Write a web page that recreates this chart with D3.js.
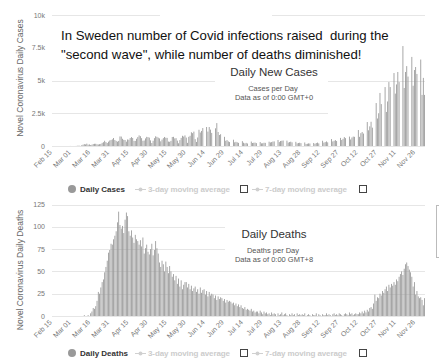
<!DOCTYPE html>
<html>
<head>
<meta charset="utf-8">
<script src="https://cdn.jsdelivr.net/npm/d3@7"></script>
<style>
body { margin: 0; background: #fff; }
svg { display: block; }
text { font-family: "Liberation Sans", Arial, sans-serif; }
</style>
</head>
<body>
<div id="chart"></div>
<script>
// x tick labels, one every 15 days starting Feb 15
const tickLabels = ["Feb 15", "Mar 01", "Mar 16", "Mar 31", "Apr 15", "Apr 30", "May 15", "May 30",
    "Jun 14", "Jun 29", "Jul 14", "Jul 29", "Aug 13", "Aug 28", "Sep 12", "Sep 27",
    "Oct 12", "Oct 27", "Nov 11", "Nov 26"];

// daily new cases, Feb 15 -> Dec 3 (one row per week, Sat..Fri)
const dailyCases = [
    0, 0, 0, 0, 0, 0, 0,
    0, 0, 0, 0, 0, 1, 0,
    5, 0, 0, 1, 2, 5, 28,
    24, 2, 57, 101, 145, 120, 180,
    102, 122, 70, 100, 150, 168, 170,
    130, 115, 140, 160, 240, 290, 400,
    300, 230, 330, 420, 460, 510, 610,
    460, 390, 330, 390, 730, 720, 550,
    470, 460, 330, 500, 480, 610, 680,
    610, 390, 390, 550, 680, 810, 750,
    600, 400, 420, 580, 700, 680, 640,
    430, 230, 400, 600, 740, 700, 640,
    580, 360, 490, 600, 690, 630, 620,
    340, 320, 390, 690, 700, 580, 600,
    410, 210, 450, 620, 780, 720, 810,
    640, 240, 700, 780, 1050, 980, 1100,
    520, 310, 650, 1240, 1030, 1150, 1370,
    0, 0, 1450, 1100, 1450, 1250, 1000,
    0, 0, 1350, 1750, 1070, 840, 900,
    0, 0, 700, 400, 450, 350, 300,
    0, 0, 480, 280, 320, 280, 240,
    0, 0, 370, 250, 200, 240, 190,
    0, 0, 340, 230, 250, 260, 220,
    0, 0, 300, 200, 210, 250, 240,
    0, 0, 330, 270, 300, 340, 350,
    0, 0, 460, 300, 380, 400, 420,
    0, 0, 410, 260, 300, 330, 280,
    0, 0, 320, 200, 230, 250, 220,
    0, 0, 270, 150, 170, 200, 190,
    0, 0, 230, 170, 230, 260, 200,
    0, 0, 400, 260, 300, 350, 280,
    0, 0, 530, 350, 400, 450, 380,
    0, 0, 620, 460, 550, 680, 600,
    0, 0, 720, 500, 650, 720, 700,
    0, 0, 1220, 700, 980, 1070, 950,
    0, 0, 1830, 1200, 1500, 1850, 1400,
    0, 0, 3280, 2100, 2500, 4050, 3200,
    0, 0, 4500, 2600, 3400, 4880, 4500,
    0, 0, 5570, 4000, 4700, 5650, 4880,
    0, 0, 7630, 4430, 5650, 6100, 5300,
    0, 0, 6800, 4600, 5800, 6030, 5500,
    0, 0, 6600, 3900, 5200, 3900
];

// daily deaths, same days
const dailyDeaths = [
    0, 0, 0, 0, 0, 0, 0,
    0, 0, 0, 0, 0, 0, 0,
    0, 0, 0, 0, 0, 0, 0,
    0, 0, 0, 0, 1, 0, 0,
    1, 0, 3, 5, 9, 8, 11,
    17, 27, 25, 32, 38, 41, 49,
    55, 62, 71, 74, 81, 80, 86,
    90, 95, 105, 117, 102, 98, 101,
    93, 108, 116, 112, 95, 90, 96,
    88, 82, 91, 86, 84, 80, 85,
    78, 88, 70, 76, 80, 72, 69,
    75, 81, 68, 74, 84, 76, 70,
    60, 55, 62, 58, 50, 61, 55,
    48, 56, 50, 44, 47, 40, 45,
    36, 42, 33, 40, 30, 35, 38,
    38, 32, 36, 30, 34, 28, 31,
    33, 27, 30, 25, 32, 26, 29,
    30, 24, 28, 22, 27, 23, 25,
    24, 20, 23, 18, 22, 19, 21,
    20, 17, 19, 15, 18, 16, 17,
    16, 14, 15, 12, 14, 11, 13,
    10, 12, 9, 8, 10, 7, 8,
    7, 6, 8, 5, 6, 4, 5,
    5, 3, 6, 4, 2, 5, 3,
    4, 2, 3, 1, 4, 2, 3,
    2, 0, 3, 1, 2, 4, 1,
    2, 3, 1, 0, 2, 1, 3,
    1, 2, 0, 3, 1, 2, 1,
    2, 1, 3, 0, 1, 2, 1,
    0, 2, 1, 1, 3, 0, 2,
    1, 0, 2, 1, 1, 3, 1,
    2, 1, 0, 2, 3, 1, 2,
    1, 3, 2, 1, 0, 2, 3,
    2, 1, 4, 2, 3, 1, 2,
    3, 2, 2, 4, 3, 5, 3,
    6, 4, 7, 5, 9, 10, 8,
    14, 24, 17, 21, 20, 25, 23,
    28, 26, 30, 33, 28, 35, 32,
    36, 34, 38, 35, 41, 39, 44,
    47, 50, 46, 53, 58, 60, 56,
    52, 49, 44, 33, 38, 24, 28,
    22, 20, 21, 18, 12, 20
];

const casesTicks = [0, 2500, 5000, 7500, 10000];
const casesTickText = ["0", "2.5k", "5k", "7.5k", "10k"];
const deathsTicks = [0, 25, 50, 75, 100, 125];

const width = 439, height = 363;
const left = 52, right = 425;

let svg = d3.select("#chart")
    .append("svg")
    .attr("width", width)
    .attr("height", height);

svg.append("rect").attr("width", width).attr("height", height).attr("fill", "#fff");

function drawPanel(p) {
    let g = svg.append("g");

    let x = d3.scaleBand()
        .domain(d3.range(p.values.length))
        .range([left, right])
        .paddingInner(0.35);

    let y = d3.scaleLinear()
        .domain([0, p.max])
        .range([p.bottom, p.top]);

    // gridlines
    g.selectAll("line.grid").data(p.ticks).join("line")
        .attr("x1", left).attr("x2", right)
        .attr("y1", d => Math.round(y(d)) + 0.5)
        .attr("y2", d => Math.round(y(d)) + 0.5)
        .attr("stroke", "#e6e6e6");

    g.selectAll("text.ylab").data(p.ticks).join("text")
        .attr("x", 45)
        .attr("y", d => y(d) + 2.5)
        .attr("text-anchor", "end")
        .attr("font-size", 7)
        .attr("fill", "#777")
        .text((d, i) => p.tickText[i]);

    // white boxes pasted over the chart in the screenshot
    g.selectAll("rect.cover").data(p.covers).join("rect")
        .attr("x", d => d[0]).attr("y", d => d[1])
        .attr("width", d => d[2]).attr("height", d => d[3])
        .attr("fill", "#fff");

    g.selectAll("rect.bar").data(p.values).join("rect")
        .attr("x", (d, i) => x(i))
        .attr("y", d => y(d))
        .attr("width", x.bandwidth())
        .attr("height", d => p.bottom - y(d))
        .attr("fill", "#959595");

    // x labels
    let xAxis = d3.axisBottom(x)
        .tickValues(d3.range(0, p.values.length, 15))
        .tickFormat(i => tickLabels[i / 15])
        .tickSize(0);
    let ax = g.append("g")
        .attr("transform", `translate(-2, ${p.bottom + 5})`)
        .call(xAxis);
    ax.select(".domain").remove();
    ax.selectAll("text")
        .attr("y", 0).attr("dy", "0.35em")
        .attr("transform", "rotate(-45)")
        .style("text-anchor", "end")
        .attr("font-size", 7)
        .attr("font-family", "Liberation Sans, Arial, sans-serif")
        .attr("fill", "#777");

    // y axis title
    g.append("text")
        .attr("transform", `translate(23, ${p.titleMid}) rotate(-90)`)
        .attr("text-anchor", "middle")
        .attr("font-size", 8.5)
        .attr("fill", "#666")
        .text(p.yTitle);

    // chart title block
    g.append("text")
        .attr("x", 274).attr("y", p.titleY)
        .attr("text-anchor", "middle")
        .attr("font-size", 11.5)
        .attr("fill", "#333")
        .text(p.title);
    g.append("text")
        .attr("x", 273).attr("y", p.titleY + 15)
        .attr("text-anchor", "middle")
        .attr("font-size", 7.5)
        .attr("fill", "#555")
        .text(p.sub1);
    g.append("text")
        .attr("x", 274).attr("y", p.titleY + 24)
        .attr("text-anchor", "middle")
        .attr("font-size", 7.5)
        .attr("fill", "#555")
        .text(p.sub2);

    // legend
    let ly = p.legendY;
    g.append("circle").attr("cx", 72).attr("cy", ly).attr("r", 4).attr("fill", "#999");
    g.append("text").attr("x", 80).attr("y", ly + 3)
        .attr("font-size", 8).attr("font-weight", "bold").attr("fill", "#333")
        .text(p.legendName);
    [[135, "3-day moving average", 240], [252, "7-day moving average", 359]].forEach(l => {
        g.append("line").attr("x1", l[0]).attr("x2", l[0] + 11)
            .attr("y1", ly + 0.5).attr("y2", ly + 0.5).attr("stroke", "#d0d0d0");
        g.append("circle").attr("cx", l[0] + 5.5).attr("cy", ly + 0.5).attr("r", 2).attr("fill", "#d0d0d0");
        g.append("text").attr("x", l[0] + 13).attr("y", ly + 3)
            .attr("font-size", 8).attr("font-weight", "bold").attr("fill", "#ccc")
            .attr("textLength", 82).attr("lengthAdjust", "spacing")
            .text(l[1]);
        g.append("rect").attr("x", l[2] + 0.5).attr("y", ly - 3.5)
            .attr("width", 7).attr("height", 7)
            .attr("fill", "none").attr("stroke", "#444");
    });
    return g;
}

drawPanel({
    values: dailyCases, max: 10000, top: 15, bottom: 146,
    ticks: casesTicks, tickText: casesTickText,
    covers: [[160, 10, 112, 10], [52, 22, 376, 40], [215, 62, 113, 48], [328, 108, 100, 10]],
    yTitle: "Novel Coronavirus Daily Cases", titleMid: 78,
    title: "Daily New Cases", titleY: 76,
    sub1: "Cases per Day", sub2: "Data as of 0:00 GMT+0",
    legendY: 189, legendName: "Daily Cases"
});

drawPanel({
    values: dailyDeaths, max: 125, top: 204.5, bottom: 316,
    ticks: deathsTicks, tickText: deathsTicks.map(String),
    covers: [[225, 214, 203, 48]],
    yTitle: "Novel Coronavirus Daily Deaths", titleMid: 270,
    title: "Daily Deaths", titleY: 238,
    sub1: "Deaths per Day", sub2: "Data as of 0:00 GMT+8",
    legendY: 353, legendName: "Daily Deaths"
});

// top edge of the second screenshot cuts the "125" label
svg.append("rect").attr("x", 0).attr("y", 196).attr("width", 60).attr("height", 6).attr("fill", "#fff");
// edge of a box at the right
svg.append("rect").attr("x", 436.5).attr("y", 205.5).attr("width", 20).attr("height", 52)
    .attr("fill", "none").attr("stroke", "#bbb");

// annotation
let note = svg.append("g")
    .attr("font-family", "Open Sans, sans-serif")
    .attr("font-size", 13.2)
    .attr("fill", "#111");
note.append("text").attr("x", 61).attr("y", 40).style("white-space", "pre")
    .text("In Sweden number of Covid infections raised  during the");
note.append("text").attr("x", 61).attr("y", 59)
    .text("\"second wave\", while number of deaths diminished!");
</script>
</body>
</html>
